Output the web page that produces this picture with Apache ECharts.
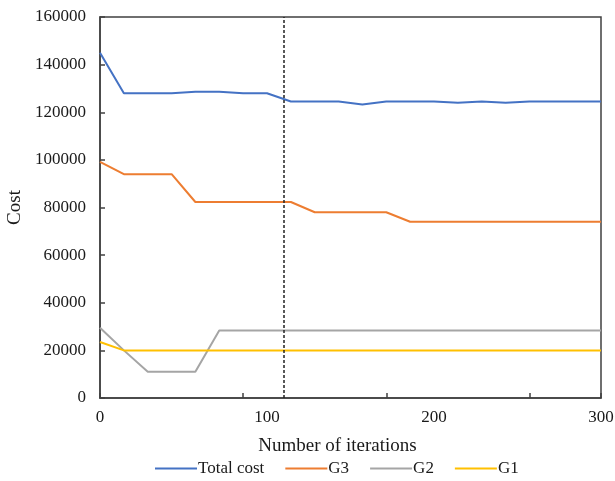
<!DOCTYPE html>
<html>
<head>
<meta charset="utf-8">
<script src="https://cdn.jsdelivr.net/npm/echarts@6/dist/echarts.min.js"></script>
<style>html,body{margin:0;padding:0;background:#fff}#c{width:615px;height:481px}</style>
</head>
<body>
<div id="c"></div>
<script>
var iterations = [0, 14.3, 28.6, 42.9, 57.1, 71.4, 85.7, 100, 114.3, 128.6, 142.9, 157.1, 171.4, 185.7, 200, 214.3, 228.6, 242.9, 257.1, 271.4, 285.7, 300];
var totalCost = [145000, 128000, 128000, 128000, 128600, 128600, 128000, 128000, 124500, 124500, 124500, 123300, 124500, 124500, 124500, 124000, 124500, 124000, 124500, 124500, 124500, 124500];
var g3 = [99200, 94000, 94000, 94000, 82300, 82300, 82300, 82300, 82300, 78000, 78000, 78000, 78000, 74000, 74000, 74000, 74000, 74000, 74000, 74000, 74000, 74000];
var g2 = [29500, 20000, 11000, 11000, 11000, 28300, 28300, 28300, 28300, 28300, 28300, 28300, 28300, 28300, 28300, 28300, 28300, 28300, 28300, 28300, 28300, 28300];
var g1 = [23500, 20000, 20000, 20000, 20000, 20000, 20000, 20000, 20000, 20000, 20000, 20000, 20000, 20000, 20000, 20000, 20000, 20000, 20000, 20000, 20000, 20000];
var seriesNames = ['Total cost', 'G3', 'G2', 'G1'];
var markerIteration = 110.2;
var xTickLabels = [0, 100, 200, 300];
var yTickMax = 160000;

function pairs(vals) { return vals.map(function (v, i) { return [iterations[i], v]; }); }

var font = 'Liberation Serif, Times New Roman, serif';
var txt = '#1a1a1a';
var axisCol = '#404040';
var chart = echarts.init(document.getElementById('c'));
var colors = ['#4472C4', '#ED7D31', '#A5A5A5', '#FFC000'];
var datasets = [totalCost, g3, g2, g1];

var series = datasets.map(function (d, i) {
  var s = {
    name: seriesNames[i], type: 'line', data: pairs(d), xAxisIndex: 0,
    symbol: 'none', smooth: false, animation: false,
    lineStyle: { color: colors[i], width: 2 }, itemStyle: { color: colors[i] }
  };
  if (i === 0) {
    s.markLine = {
      silent: true, symbol: 'none', animation: false,
      label: { show: false },
      lineStyle: { color: '#222', width: 1.5, type: [3, 2] },
      data: [{ xAxis: markerIteration }]
    };
  }
  return s;
});

chart.setOption({
  backgroundColor: '#fff',
  animation: false,
  grid: { left: 100, right: 14, top: 17, bottom: 83, show: true, borderColor: axisCol, borderWidth: 1.5, backgroundColor: 'transparent', outerBoundsMode: 'none', containLabel: false },
  legend: {
    bottom: -1, left: 150, itemWidth: 42, itemHeight: 2, itemGap: 21, icon: 'rect',
    textStyle: { fontFamily: font, fontSize: 17, color: txt, padding: [0, 0, 0, -4] },
    data: seriesNames
  },
  xAxis: [{
    type: 'value', min: xTickLabels[0], max: xTickLabels[xTickLabels.length - 1], interval: 100,
    position: 'bottom',
    name: 'Number of iterations', nameLocation: 'middle', nameGap: 39,
    nameTextStyle: { fontFamily: font, fontSize: 19, color: txt, padding: [0, 26, 0, 0] },
    axisLine: { show: true, lineStyle: { color: axisCol, width: 1.5 } },
    axisTick: { show: false },
    axisLabel: { fontFamily: font, fontSize: 17, color: txt, margin: 11 },
    splitLine: { show: false }
  }, {
    type: 'value', min: 0, max: 21, interval: 6, position: 'bottom',
    axisLine: { show: false },
    axisTick: { show: true, inside: true, length: 5, lineStyle: { color: axisCol, width: 1.5 } },
    axisLabel: { show: false },
    splitLine: { show: false }
  }],
  yAxis: {
    type: 'value', min: 0, max: yTickMax, interval: 20000,
    name: 'Cost', nameLocation: 'middle', nameGap: 75,
    nameTextStyle: { fontFamily: font, fontSize: 19, color: txt },
    axisLine: { show: true, lineStyle: { color: axisCol, width: 1.5 } },
    axisTick: { show: true, inside: true, length: 5, lineStyle: { color: axisCol, width: 1.5 } },
    axisLabel: { fontFamily: font, fontSize: 17, color: txt, margin: 14, formatter: function (v) { return String(v); } },
    splitLine: { show: false }
  },
  series: series
});
</script>
</body>
</html>
